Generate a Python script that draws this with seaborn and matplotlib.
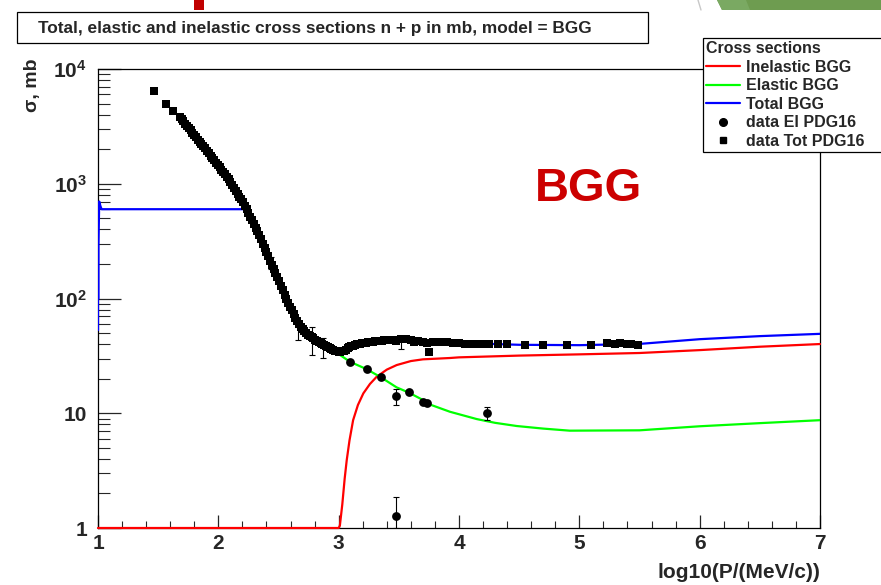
import numpy as np
import pandas as pd
import matplotlib
matplotlib.use("Agg")
import matplotlib.pyplot as plt
import seaborn as sns
from matplotlib.lines import Line2D
from matplotlib.patches import Rectangle, Polygon
from matplotlib.ticker import FixedLocator, NullFormatter

# ---------------- data ----------------
# model curves (log10 P vs sigma in mb)
inel_x = [1.0, 3.0, 3.01, 3.03, 3.05, 3.067, 3.09, 3.12, 3.16, 3.205, 3.26, 3.316,
          3.4, 3.482, 3.6, 3.7, 3.925, 4.0, 4.5, 5.0, 5.5, 6.0, 6.5, 7.0]
inel_y = [1.0, 1.0, 1.05, 1.6, 2.7, 3.9, 5.8, 8.7, 11.8, 14.9, 18.0, 20.8,
          24.0, 26.3, 28.5, 29.5, 30.3, 30.7, 31.8, 32.6, 33.5, 35.5, 38.0, 40.1]

el_x = [2.95, 3.011, 3.094, 3.233, 3.35, 3.482, 3.585, 3.703, 3.76, 3.925, 4.147, 4.3,
        4.48, 4.7, 4.92, 5.5, 6.0, 6.5, 7.0]
el_y = [35.5, 32.2, 28.1, 24.2, 20.6, 16.8, 15.1, 13.0, 11.9, 10.3, 8.9, 8.25,
        7.74, 7.35, 7.05, 7.1, 7.7, 8.2, 8.7]

tot_x = [1.0, 1.0, 1.004, 1.004, 1.01, 1.02, 1.03, 2.2, 2.24, 2.25, 2.3, 2.4, 2.5, 2.6,
         2.7, 2.8, 2.9, 3.0, 3.1, 3.2, 3.3, 3.4, 3.5, 3.7, 4.0, 4.5, 5.0, 5.5, 6.0, 6.5, 7.0]
tot_y = [53, 100, 100, 300, 700, 640, 600, 600, 600, 557, 430, 254, 145, 83,
         54.6, 44.3, 38.0, 34.5, 37.5, 40.2, 41.8, 42.8, 43.0, 42.0, 41.0, 39.5, 39.2, 40.2,
         44.2, 47.0, 49.2]

# total cross-section data (squares)
dtot_x = [1.465, 1.565, 1.626, 1.68, 1.695, 1.71, 1.725, 1.74, 1.755, 1.77, 1.785, 1.80,
          1.815, 1.83, 1.845, 1.86, 1.875, 1.89, 1.905, 1.92, 1.935, 1.95, 1.965, 1.98,
          1.995, 2.01, 2.025, 2.04, 2.055, 2.07, 2.085, 2.10, 2.115, 2.13, 2.145, 2.16,
          2.175, 2.19, 2.205, 2.22, 2.235, 2.25, 2.265, 2.28, 2.295, 2.31, 2.325, 2.34,
          2.355, 2.37, 2.385, 2.40, 2.415, 2.43, 2.445, 2.46, 2.475, 2.49, 2.505, 2.52,
          2.535, 2.55, 2.565, 2.58, 2.595, 2.61, 2.625, 2.64, 2.655, 2.67, 2.685, 2.70,
          2.715, 2.73, 2.745, 2.76, 2.775, 2.79, 2.805, 2.82, 2.835, 2.85, 2.865, 2.88,
          2.895, 2.91, 2.925, 2.94, 2.955, 2.97, 2.985, 3.00, 3.015, 3.03, 3.045, 3.06,
          3.075, 3.09, 3.105, 3.12, 3.135, 3.15, 3.165, 3.18, 3.195, 3.21, 3.225, 3.24,
          3.255, 3.27, 3.285, 3.30, 3.315, 3.33, 3.345, 3.36, 3.375, 3.39, 3.405, 3.42,
          3.435, 3.45, 3.48, 3.52, 3.56, 3.60, 3.63, 3.66, 3.70, 3.73, 3.75, 3.78, 3.82,
          3.86, 3.90, 3.95, 4.00, 4.05, 4.10, 4.15, 4.20, 4.25, 4.32, 4.40, 4.55, 4.70,
          4.90, 5.10, 5.23, 5.30, 5.34, 5.40, 5.43, 5.49]
dtot_y = [6470, 4920, 4330, 3840, 3670, 3510, 3350, 3200, 3060, 2920, 2790, 2670,
          2550, 2430, 2320, 2220, 2120, 2030, 1940, 1850, 1760, 1680, 1600, 1530,
          1460, 1390, 1330, 1270, 1210, 1150, 1090, 1030, 970, 916, 866, 818,
          772, 730, 688, 646, 600, 557, 518, 480, 446, 413, 384, 355,
          327, 301, 277, 254, 233, 214, 197, 181, 167, 153, 141, 129,
          118, 108, 100, 92, 85, 79, 73, 68, 64, 60, 57, 54.6,
          52.1, 49.8, 48.5, 47.3, 46.1, 45.0, 43.9, 42.9, 41.8, 40.7, 39.9, 39.1,
          38.3, 37.6, 36.9, 36.3, 35.7, 35.2, 34.8, 34.5, 34.5, 34.7, 35.2, 35.9,
          37.0, 38.0, 38.5, 38.9, 39.3, 39.8, 40.1, 40.5, 40.8, 41.0, 41.3, 41.5,
          41.7, 41.9, 42.1, 42.3, 42.5, 42.7, 42.8, 43.0, 43.1, 43.3, 43.4, 43.5,
          43.5, 43.6, 42.7, 44.0, 44.2, 43.5, 42.0, 43.0, 42.0, 41.0, 34.4, 42.0, 42.0,
          41.5, 41.5, 41.0, 40.8, 40.5, 40.5, 40.0, 40.0, 39.8, 39.8, 40.0, 39.6, 39.4,
          39.5, 39.6, 40.7, 40.5, 40.7, 40.3, 40.5, 39.5]

# error bars on a few total-data points
etot_x = [2.44, 2.665, 2.776, 2.87, 3.52]
etot_y = [203, 50, 45, 38, 42.7]
etot_lo = [180, 43.5, 32, 30.3, 36]
etot_hi = [230, 57, 57, 45, 46]

# elastic data (circles)
del_x = [3.094, 3.233, 3.35, 3.474, 3.585, 3.70, 3.73, 4.23, 3.474]
del_y = [28.1, 24.2, 20.6, 14.1, 15.4, 12.6, 12.2, 10.0, 1.27]
del_lo = [28.1, 24.2, 20.6, 11.8, 15.4, 12.6, 12.2, 8.7, 1.0]
del_hi = [28.1, 24.2, 20.6, 16.2, 15.4, 12.6, 12.2, 11.3, 1.87]

legend_labels = ["Inelastic BGG", "Elastic BGG", "Total BGG", "data El PDG16", "data Tot PDG16"]
ytick_vals = [1, 10, 100, 1000, 10000]
ytick_labels = ["1", "10", r"$\mathbf{10^{2}}$", r"$\mathbf{10^{3}}$", r"$\mathbf{10^{4}}$"]
xtick_vals = [1, 2, 3, 4, 5, 6, 7]

# ---------------- style ----------------
sns.set_style("ticks")
plt.rcParams["font.family"] = ["Liberation Sans", "DejaVu Sans"]
plt.rcParams["font.weight"] = "bold"
plt.rcParams["mathtext.fontset"] = "custom"
plt.rcParams["mathtext.bf"] = "Liberation Sans:bold"
plt.rcParams["mathtext.rm"] = "Liberation Sans:bold"
plt.rcParams["mathtext.it"] = "Liberation Sans:bold"

W, H = 881, 585
fig = plt.figure(figsize=(W / 100, H / 100), dpi=100)
ax = fig.add_axes([98 / W, (H - 528) / H, (820 - 98) / W, (528 - 69) / H])

RED, GREEN, BLUE = "#ff0000", "#00ff00", "#0000ff"
lw = 1.6

sns.lineplot(x=inel_x, y=inel_y, sort=False, estimator=None, color=RED, lw=lw, ax=ax,
             clip_on=False, zorder=3)
sns.lineplot(x=el_x, y=el_y, sort=False, estimator=None, color=GREEN, lw=lw, ax=ax, zorder=3)
sns.lineplot(x=tot_x, y=tot_y, sort=False, estimator=None, color=BLUE, lw=lw, ax=ax, zorder=3)

ax.errorbar(etot_x, etot_y,
            yerr=[np.array(etot_y) - np.array(etot_lo), np.array(etot_hi) - np.array(etot_y)],
            fmt="none", ecolor="black", elinewidth=0.8, capsize=2.5, capthick=0.8, zorder=4)
ax.errorbar(del_x, del_y,
            yerr=[np.array(del_y) - np.array(del_lo), np.array(del_hi) - np.array(del_y)],
            fmt="none", ecolor="black", elinewidth=0.8, capsize=2.5, capthick=0.8, zorder=4)

sns.scatterplot(x=dtot_x, y=dtot_y, marker="s", color="black", s=38, linewidth=0, ax=ax, zorder=5)
sns.scatterplot(x=del_x, y=del_y, marker="o", color="black", s=40, linewidth=0, ax=ax, zorder=5)

ax.set_yscale("log")
ax.set_xlim(1, 7)
ax.set_ylim(1, 1e4)

ax.xaxis.set_major_locator(FixedLocator(xtick_vals))
ax.xaxis.set_minor_locator(FixedLocator(np.arange(1, 7.001, 0.2)))
ax.set_xticklabels([str(v) for v in xtick_vals])
ax.yaxis.set_major_locator(FixedLocator(ytick_vals))
ax.yaxis.set_minor_locator(FixedLocator([m * 10 ** e for e in range(0, 4) for m in range(2, 10)]))
ax.set_yticklabels(ytick_labels)
ax.yaxis.set_minor_formatter(NullFormatter())

ax.tick_params(axis="y", which="major", direction="in", length=16.5, width=0.9,
               labelsize=15, pad=8, left=True, right=False)
ax.tick_params(axis="y", which="minor", direction="in", length=8.6, width=0.8,
               left=True, right=False)
ax.tick_params(axis="x", which="major", direction="in", length=9.4, width=0.9,
               labelsize=15, pad=4, bottom=True, top=False)
ax.tick_params(axis="x", which="minor", direction="in", length=5, width=0.8,
               bottom=True, top=False)
for lab in ax.get_xticklabels() + ax.get_yticklabels():
    lab.set_fontweight("bold")
for s in ax.spines.values():
    s.set_visible(True)
    s.set_linewidth(0.9)
    s.set_color("black")
ax.set_xlabel("")
ax.set_ylabel("")

# axis titles
fig.text(820 / W, 1 - 572 / H, "log10(P/(MeV/c))", ha="right", va="center",
         fontsize=15, fontweight="bold")
fig.text(33 / W, 1 - 58 / H, "σ, mb", ha="center", va="top", rotation=90,
         fontsize=14, fontweight="bold")

# big label
fig.text(588 / W, 1 - 189 / H, "BGG", ha="center", va="center", fontsize=34,
         fontweight="bold", color="#cc0000")

# title box
fig.add_artist(Rectangle((17 / W, 1 - 43 / H), (648 - 17) / W, 31 / H, transform=fig.transFigure,
                         facecolor="white", edgecolor="black", lw=0.9, zorder=5))
fig.text(38 / W, 1 - 28 / H, "Total, elastic and inelastic cross sections n + p in mb, model = BGG",
         ha="left", va="center", fontsize=12.4, fontweight="bold", zorder=6)

# legend
handles = [Line2D([], [], color=RED, lw=lw), Line2D([], [], color=GREEN, lw=lw),
           Line2D([], [], color=BLUE, lw=lw),
           Line2D([], [], marker="o", ls="none", color="black", ms=5.5),
           Line2D([], [], marker="s", ls="none", color="black", ms=4.5)]
leg = fig.legend(handles, legend_labels, title="Cross sections", loc="upper left",
                 bbox_to_anchor=(703 / W, 1 - 155 / H, (885 - 703) / W, (155 - 38) / H),
                 mode="expand", frameon=True, fancybox=False, edgecolor="black", framealpha=1,
                 borderaxespad=0, prop={"size": 11.5, "weight": "bold"},
                 title_fontproperties={"size": 11.5, "weight": "bold"}, alignment="left",
                 handlelength=2.1, handletextpad=0.4, labelspacing=0.22, borderpad=0.2)
leg.get_frame().set_linewidth(0.9)
leg.set_zorder(10)

# slide decorations
fig.add_artist(Rectangle((194 / W, 1 - 10 / H), 10 / W, 10 / H, transform=fig.transFigure,
                         facecolor="#c00000", edgecolor="none"))
fig.add_artist(Polygon([[717 / W, 1.0], [881 / W, 1.0], [881 / W, 1 - 10 / H], [722 / W, 1 - 10 / H]],
                       closed=True, transform=fig.transFigure, facecolor="#6e9c50", edgecolor="none"))
fig.add_artist(Polygon([[717 / W, 1.0], [746 / W, 1.0], [750 / W, 1 - 10 / H], [722 / W, 1 - 10 / H]],
                       closed=True, transform=fig.transFigure, facecolor="#7aa962", edgecolor="none"))
fig.add_artist(Line2D([698 / W, 701 / W], [1.0, 1 - 10 / H], transform=fig.transFigure,
                      color="#c8c8c8", lw=1))

fig.savefig("out.png", dpi=100)
